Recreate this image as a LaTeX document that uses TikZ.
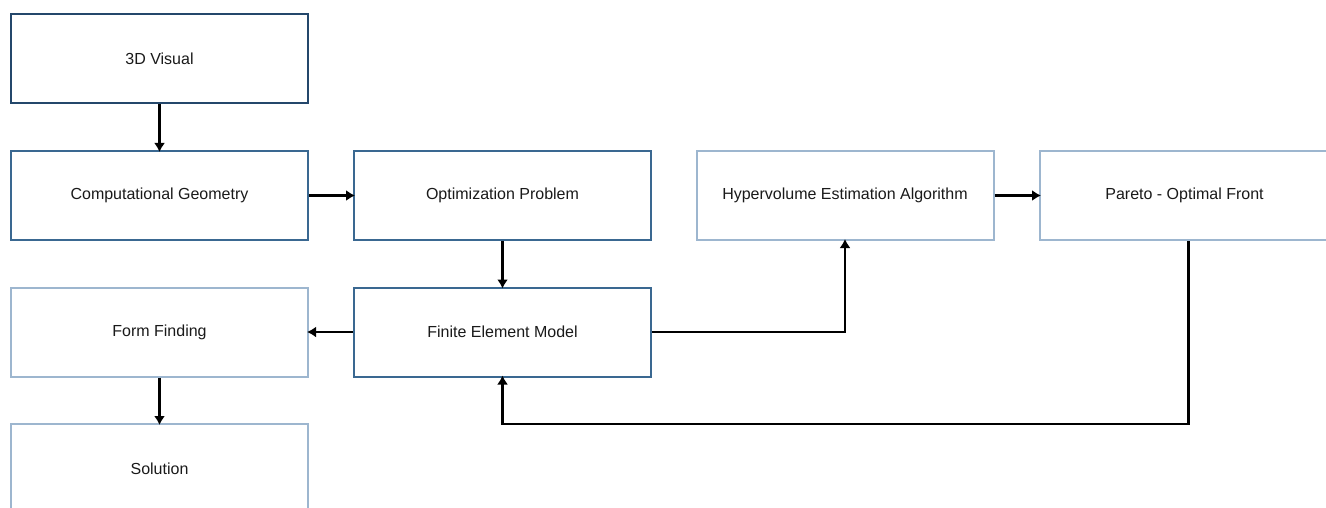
\documentclass[tikz,border=0pt]{standalone}
\usepackage{fontspec}
\setmainfont{Liberation Sans}
\usetikzlibrary{arrows.meta}
\definecolor{darkb}{HTML}{24476B}
\definecolor{midb}{HTML}{3A6891}
\definecolor{lightb}{HTML}{9DB6CF}
\definecolor{txt}{HTML}{1A1A1A}
\begin{document}
\begin{tikzpicture}[x=1pt,y=-1pt,
  box/.style={draw, line width=2pt, fill=white, minimum width=297pt, minimum height=89pt, inner sep=0pt, font=\fontsize{16}{19}\selectfont, text=txt},
  dbox/.style={box, draw=darkb},
  mbox/.style={box, draw=midb},
  lbox/.style={box, draw=lightb},
  arr/.style={line width=2.3pt, black, -{Latex[length=9pt,width=11pt]}, shorten >=-2pt}]
\useasboundingbox (0,0) rectangle (1326,508);
\clip (0,0) rectangle (1326,508);
\fill[white] (0,0) rectangle (1326,508);
\node[dbox] (vis) at (159.5,59) {\raisebox{-2pt}{3D Visual}};
\node[mbox] (cg) at (159.5,195.5) {\raisebox{-2pt}{Computational Geometry}};
\node[mbox] (op) at (502.5,195.5) {\raisebox{-2pt}{Optimization Problem}};
\node[lbox] (hyp) at (845,195.5) {\raisebox{-2pt}{Hypervolume Estimation Algorithm}};
\node[lbox] (par) at (1188.5,195.5) {\hspace*{-8pt}\raisebox{-2pt}{Pareto - Optimal Front}};
\node[lbox] (ff) at (159.5,332) {\raisebox{-2pt}{Form Finding}};
\node[mbox] (fem) at (502.5,332) {\raisebox{-2pt}{Finite Element Model}};
\node[lbox] (sol) at (159.5,468.5) {\raisebox{-2pt}{Solution}};
\draw[arr] (vis) -- (cg);
\draw[arr] (cg) -- (op);
\draw[arr] (op) -- (fem);
\draw[arr] (hyp) -- (par);
\draw[arr] (fem) -- (ff);
\draw[arr] (ff) -- (sol);
\draw[arr] (fem.east) -| (hyp.south);
\coordinate (lp) at (1188.5,424);
\draw[arr] (par.south) -- (lp) -| (fem.south);
\end{tikzpicture}
\end{document}
